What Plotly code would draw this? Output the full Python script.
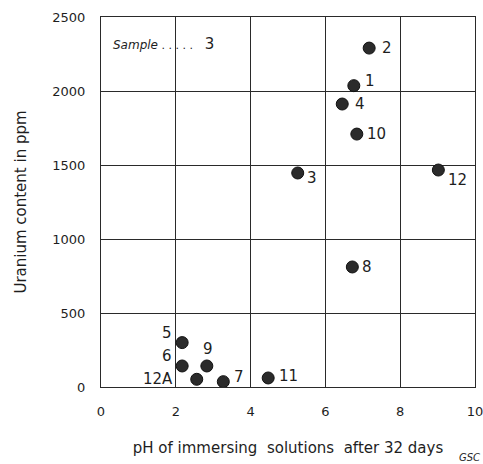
import plotly.graph_objects as go

# Data
samples = ["2", "1", "4", "10", "3", "12", "8", "5", "6", "9", "12A", "7", "11"]
ph_values = [7.17, 6.76, 6.45, 6.84, 5.26, 9.02, 6.72, 2.17, 2.17, 2.83, 2.56, 3.27, 4.47]
uranium_ppm = [2290, 2036, 1912, 1709, 1446, 1466, 811, 300, 142, 142, 52, 36, 61]

x_ticks = [0, 2, 4, 6, 8, 10]
y_ticks = [0, 500, 1000, 1500, 2000, 2500]

# label pixel offsets (style only)
label_offsets = {
    "2": (18, 0), "1": (16, -5), "4": (18, 0), "10": (20, 0), "3": (14, 5),
    "12": (19, 10), "8": (15, 0), "5": (-15, -10), "6": (-15, -10),
    "9": (1, -17), "12A": (-39, 0), "7": (16, -5), "11": (20, -2),
}

FONT = "DejaVu Sans"
INK = "#1e1e1e"

fig = go.Figure()
fig.add_trace(go.Scatter(
    x=ph_values, y=uranium_ppm, mode="markers",
    marker=dict(size=12, color="#2b2b2b", line=dict(color="#111111", width=1)),
    hoverinfo="skip", showlegend=False,
))

annotations = []
for s, xv, yv in zip(samples, ph_values, uranium_ppm):
    dx, dy = label_offsets[s]
    annotations.append(dict(
        x=xv, y=yv, xref="x", yref="y", text=s, showarrow=False,
        xshift=dx, yshift=-dy, font=dict(family=FONT, size=15, color=INK),
    ))

annotations.append(dict(
    x=0.26, y=2320, xref="x", yref="y", xanchor="left", showarrow=False,
    text="<i><span style='font-size:12px'>Sample</span></i>"
         "<span style='font-size:11px'> . . . . .  </span> 3",
    font=dict(family=FONT, size=15, color=INK),
))
annotations.append(dict(
    x=1.019, y=-0.19, xref="paper", yref="paper", xanchor="right", yanchor="middle",
    showarrow=False, text="<i>GSC</i>",
    font=dict(family=FONT, size=10, color=INK),
))
fig.update_layout(annotations=annotations)

axis_common = dict(
    showgrid=True, gridcolor="#2a2a2a", gridwidth=1,
    showline=True, linecolor="#2a2a2a", linewidth=1, mirror=True,
    zeroline=False, ticks="", tickfont=dict(family=FONT, size=13, color=INK),
    ticklabeloverflow="allow",
)
fig.update_xaxes(
    range=[0, 10], tickvals=x_ticks, ticktext=[str(v) for v in x_ticks],
    ticklabelstandoff=12,
    title=dict(text="pH of immersing  solutions  after 32 days",
               font=dict(family=FONT, size=15, color=INK), standoff=24),
    **axis_common,
)
fig.update_yaxes(
    range=[0, 2500], tickvals=y_ticks, ticktext=[str(v) for v in y_ticks],
    ticklabelstandoff=12,
    title=dict(text="Uranium content in ppm",
               font=dict(family=FONT, size=15, color=INK), standoff=22),
    **axis_common,
)

fig.update_layout(
    width=483, height=464,
    margin=dict(l=101, r=8, t=17, b=77, autoexpand=False),
    paper_bgcolor="white", plot_bgcolor="white",
    font=dict(family=FONT, color=INK),
)

fig.write_html("out.html")
